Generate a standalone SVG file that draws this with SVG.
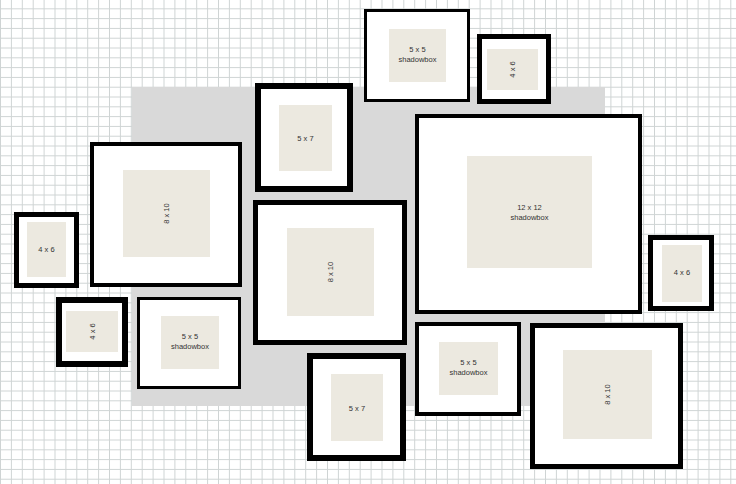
<svg xmlns="http://www.w3.org/2000/svg" width="736" height="484" viewBox="0 0 736 484">
<style>
.f{fill:#fff;stroke:#000}
.m{fill:#ece9e0}
.t{font-family:"Liberation Sans",Arial,sans-serif;font-size:7.5px;fill:#333;text-anchor:middle}
</style>
<defs>
<pattern id="grid" x="0" y="-0.5" width="10.9" height="9.8" patternUnits="userSpaceOnUse">
<path d="M0.5 0V9.8M0 9.3H10.9" stroke="#cfd4d4" stroke-width="1" fill="none"/>
</pattern>
</defs>
<rect width="736" height="484" fill="#fff"/>
<rect width="736" height="484" fill="url(#grid)"/>
<rect x="132" y="87" width="473" height="319" fill="#d9d9d9"/>
<g id="connectors"/>
<g id="n1"><rect class="f" x="365.5" y="10.5" width="103" height="90" stroke-width="3"/><rect class="m" x="389" y="29" width="57" height="53"/><text class="t" x="417.5" y="52">5 x 5</text><text class="t" x="417.5" y="62">shadowbox</text></g>
<g id="n2"><rect class="f" x="479.5" y="36.5" width="69" height="65" stroke-width="5"/><rect class="m" x="487" y="49" width="51" height="41"/><text class="t" transform="translate(515,69.5) rotate(-90)">4 x 6</text></g>
<g id="n3"><rect class="f" x="258" y="86" width="92" height="103" stroke-width="6"/><rect class="m" x="279" y="105" width="53" height="66"/><text class="t" x="305.5" y="140.5">5 x 7</text></g>
<g id="n4"><rect class="f" x="92" y="144" width="148" height="141" stroke-width="4"/><rect class="m" x="123" y="170" width="87" height="87"/><text class="t" transform="translate(169,213.5) rotate(-90)">8 x 10</text></g>
<g id="n5"><rect class="f" x="16.5" y="214.5" width="60" height="71" stroke-width="5"/><rect class="m" x="27" y="222" width="39" height="55"/><text class="t" x="46.5" y="252">4 x 6</text></g>
<g id="n6"><rect class="f" x="59" y="300" width="66" height="64" stroke-width="6"/><rect class="m" x="66" y="311" width="52" height="41"/><text class="t" transform="translate(94.5,331.5) rotate(-90)">4 x 6</text></g>
<g id="n7"><rect class="f" x="138.5" y="298.5" width="101" height="89" stroke-width="3"/><rect class="m" x="161" y="316" width="58" height="53"/><text class="t" x="190" y="339">5 x 5</text><text class="t" x="190" y="349">shadowbox</text></g>
<g id="n8"><rect class="f" x="255.5" y="202.5" width="149" height="140" stroke-width="5"/><rect class="m" x="287" y="228" width="87" height="88"/><text class="t" transform="translate(333,272) rotate(-90)">8 x 10</text></g>
<g id="n9"><rect class="f" x="310" y="356" width="93" height="102" stroke-width="6"/><rect class="m" x="331" y="374" width="52" height="67"/><text class="t" x="357" y="410.5">5 x 7</text></g>
<g id="n10"><rect class="f" x="417" y="116" width="223" height="196" stroke-width="4"/><rect class="m" x="467" y="156" width="125" height="112"/><text class="t" x="529.5" y="210">12 x 12</text><text class="t" x="529.5" y="220">shadowbox</text></g>
<g id="n11"><rect class="f" x="650.5" y="237.5" width="61" height="71" stroke-width="5"/><rect class="m" x="662" y="245" width="40" height="57"/><text class="t" x="682" y="275">4 x 6</text></g>
<g id="n12"><rect class="f" x="417" y="324" width="102" height="90" stroke-width="4"/><rect class="m" x="439" y="342" width="59" height="53"/><text class="t" x="468.5" y="365">5 x 5</text><text class="t" x="468.5" y="375">shadowbox</text></g>
<g id="n13"><rect class="f" x="532.5" y="325.5" width="148" height="141" stroke-width="5"/><rect class="m" x="563" y="350" width="89" height="89"/><text class="t" transform="translate(610,394.5) rotate(-90)">8 x 10</text></g>
</svg>
